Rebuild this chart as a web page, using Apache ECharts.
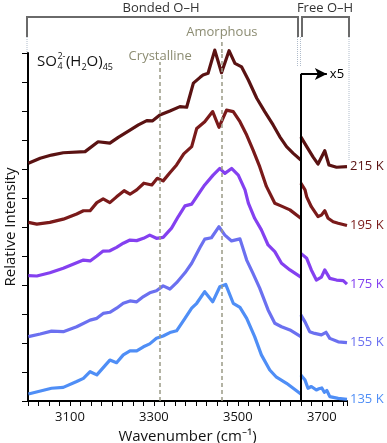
<!DOCTYPE html>
<html><head><meta charset="utf-8">
<script src="https://cdn.jsdelivr.net/npm/echarts@6/dist/echarts.min.js"></script>
<style>html,body{margin:0;padding:0;background:#fff}#c{width:387px;height:443px}</style>
</head><body><div id="c"></div>
<script>
// ---- data (wavenumber cm-1, relative intensity with offsets) ----
const bonded135 = [[3001,0.24],[3056,0.44],[3084,0.47],[3116,0.67],[3132,0.78],[3148,1.01],[3164,0.90],[3195,1.41],[3211,1.32],[3227,1.59],[3243,1.73],[3259,1.73],[3275,1.87],[3290,1.97],[3306,2.16],[3322,2.24],[3338,2.36],[3354,2.42],[3374,2.85],[3390,3.20],[3402,3.37],[3421,3.77],[3440,3.42],[3457,3.94],[3471,4.02],[3489,3.37],[3505,3.23],[3521,2.85],[3540,2.22],[3556,1.59],[3576,1.07],[3592,0.82],[3616,0.61],[3650,0.24]];
const free135 = [[3650,0.90],[3660,0.72],[3667,0.44],[3675,0.50],[3687,0.38],[3693,0.42],[3700,0.45],[3706,0.30],[3712,0.36],[3719,0.15],[3739,0.09],[3760,0.06]];
const bonded155 = [[3001,2.22],[3029,2.31],[3056,2.41],[3084,2.39],[3116,2.56],[3148,2.79],[3164,2.85],[3179,3.02],[3195,3.06],[3211,3.20],[3227,3.37],[3243,3.45],[3259,3.42],[3275,3.60],[3290,3.73],[3306,3.80],[3322,3.97],[3338,3.86],[3354,4.08],[3374,4.42],[3390,4.75],[3410,5.30],[3421,5.58],[3437,5.63],[3455,6.01],[3469,5.72],[3485,5.52],[3505,5.59],[3521,4.86],[3536,4.40],[3552,3.89],[3572,3.14],[3588,2.68],[3604,2.56],[3624,2.45],[3650,2.22]];
const free155 = [[3650,2.97],[3660,2.73],[3671,2.39],[3683,2.33],[3699,2.28],[3710,2.37],[3719,2.16],[3739,2.04],[3760,2.01]];
const bonded175 = [[3001,4.32],[3021,4.31],[3052,4.42],[3084,4.58],[3116,4.77],[3132,4.86],[3148,4.83],[3164,5.00],[3179,5.17],[3195,5.18],[3211,5.30],[3227,5.44],[3243,5.55],[3259,5.53],[3275,5.61],[3290,5.72],[3306,5.61],[3322,5.64],[3342,5.96],[3358,6.36],[3374,6.73],[3390,6.79],[3410,7.22],[3421,7.45],[3441,7.79],[3457,8.02],[3469,7.85],[3485,8.02],[3501,7.79],[3517,7.28],[3525,6.82],[3540,6.30],[3556,5.90],[3572,5.38],[3588,5.15],[3604,4.75],[3624,4.52],[3650,4.27]];
const free175 = [[3650,5.09],[3664,4.92],[3675,4.52],[3687,4.17],[3699,4.27],[3707,4.52],[3719,4.23],[3735,4.17],[3751,4.15],[3760,4.03]];
const bonded195 = [[3001,6.16],[3021,6.10],[3052,6.16],[3084,6.27],[3116,6.45],[3132,6.56],[3148,6.56],[3164,6.84],[3179,6.97],[3195,6.84],[3211,7.04],[3229,7.25],[3243,7.13],[3259,7.28],[3276,7.51],[3295,7.45],[3308,7.68],[3322,7.59],[3338,7.87],[3354,8.14],[3371,8.52],[3390,8.77],[3402,9.40],[3421,9.63],[3440,9.98],[3455,9.44],[3473,10.03],[3489,9.98],[3505,9.63],[3521,9.17],[3536,8.66],[3552,8.08],[3568,7.40],[3588,6.82],[3604,6.72],[3624,6.59],[3650,6.30]];
const free195 = [[3650,7.51],[3660,7.28],[3664,7.04],[3675,6.70],[3691,6.36],[3699,6.41],[3707,6.56],[3715,6.30],[3727,6.18],[3739,6.13],[3760,6.05]];
const bonded215 = [[3001,8.20],[3029,8.37],[3056,8.48],[3084,8.56],[3136,8.60],[3167,8.94],[3195,8.89],[3215,9.09],[3243,9.34],[3263,9.52],[3283,9.67],[3297,9.66],[3314,9.86],[3338,10.00],[3362,10.15],[3378,10.13],[3394,10.96],[3410,11.16],[3417,11.24],[3429,11.30],[3445,12.10],[3461,11.32],[3479,12.08],[3493,11.64],[3509,11.52],[3525,11.07],[3545,10.44],[3564,9.98],[3584,9.52],[3600,9.11],[3616,8.77],[3632,8.54],[3650,8.31]];
const free215 = [[3650,9.11],[3664,8.77],[3679,8.42],[3691,8.17],[3707,8.63],[3717,8.14],[3735,8.06],[3760,8.08]];
const temperatures = ['135 K','155 K','175 K','195 K','215 K'];
const xTickLabels = [3100,3300,3500,3700];
const crystallineWn = 3315;
const amorphousWn = 3462;
const breakWn = 3650;

const colors = ['#4f8ef6','#6b70f0','#8440f0','#7a1a1a','#5a1212'];
const bondedSets = [bonded135,bonded155,bonded175,bonded195,bonded215];
const freeSets = [free135,free155,free175,free195,free215];
const FONT = '"Open Sans", "Noto Sans", sans-serif';
const annoColor = '#8c8c72', annoLine = '#9a9a86';

const series = [];
bondedSets.forEach((d,i)=>{
  series.push({type:'line',data:d,showSymbol:false,clip:false,z:3,
    lineStyle:{color:colors[i],width:3.2,join:'round'},itemStyle:{color:colors[i]}});
  series.push({type:'line',data:freeSets[i],showSymbol:false,clip:false,z:3,
    lineStyle:{color:colors[i],width:3.2,join:'round'},itemStyle:{color:colors[i]},
    endLabel:{show:true,formatter:temperatures[i],color:colors[i],fontSize:13,distance:3,fontFamily:FONT}});
});
// annotations
series.push({type:'line',data:[],silent:true,z:2,clip:false,
  markLine:{symbol:'none',silent:true,animation:false,
    data:[
      [{coord:[crystallineWn,0],lineStyle:{color:annoLine,type:[4,3],width:1.5},
        label:{show:true,position:'end',formatter:'Crystalline',color:annoColor,fontSize:13,distance:-1,fontFamily:FONT}},
       {coord:[crystallineWn,11.69]}],
      [{coord:[amorphousWn,0],lineStyle:{color:annoLine,type:[4,3],width:1.5},label:{show:false}},
       {coord:[amorphousWn,12]}]
    ]}});
series.push({type:'line',data:[],silent:true,z:5,clip:false,
  markLine:{silent:true,animation:false,symbol:'none',
    data:[
      [{coord:[breakWn,0],lineStyle:{color:'#000',type:'solid',width:2},label:{show:false}},{coord:[breakWn,11.28]}],
      [{coord:[breakWn,11.28],symbol:'none',lineStyle:{color:'#000',type:'solid',width:2},
        label:{show:true,position:'end',formatter:'x5',color:'#000',fontSize:13,distance:3,fontFamily:FONT}},
       {coord:[3712,11.28],symbol:'arrow',symbolSize:[9,12]}]
    ]}});

// formula label layout: measure text widths
const ctx = document.createElement('canvas').getContext('2d');
function w(t,size){ctx.font=size+'px '+FONT;return ctx.measureText(t).width;}
const big=15, small=9, fx=37, fy=62;
let cx = fx;
const formula=[];
formula.push({type:'text',x:cx,y:fy,style:{text:'SO',fill:'#111',font:big+'px '+FONT,textVerticalAlign:'middle'}});
cx += w('SO',big)+0.5;
formula.push({type:'text',x:cx,y:fy-6,style:{text:'2-',fill:'#111',font:small+'px '+FONT,textVerticalAlign:'middle'}});
formula.push({type:'text',x:cx,y:fy+4,style:{text:'4',fill:'#111',font:small+'px '+FONT,textVerticalAlign:'middle'}});
cx += Math.max(w('2-',small),w('4',small))+0.5;
formula.push({type:'text',x:cx,y:fy,style:{text:'(H',fill:'#111',font:big+'px '+FONT,textVerticalAlign:'middle'}});
cx += w('(H',big);
formula.push({type:'text',x:cx,y:fy+5,style:{text:'2',fill:'#111',font:small+'px '+FONT,textVerticalAlign:'middle'}});
cx += w('2',small);
formula.push({type:'text',x:cx,y:fy,style:{text:'O)',fill:'#111',font:big+'px '+FONT,textVerticalAlign:'middle'}});
cx += w('O)',big);
formula.push({type:'text',x:cx,y:fy+5,style:{text:'45',fill:'#111',font:small+'px '+FONT,textVerticalAlign:'middle'}});

const chart = echarts.init(document.getElementById('c'),null,{renderer:'canvas'});
const baseGraphic = [
    {type:'polyline',shape:{points:[[27,37],[27,17],[298,17],[298,37]]},style:{stroke:'#6a6a6a',lineWidth:2,fill:null}},
    {type:'polyline',shape:{points:[[302,37],[302,17],[349,17],[349,37]]},style:{stroke:'#6a6a6a',lineWidth:2,fill:null}},
    {type:'line',shape:{x1:27,y1:37,x2:27,y2:52},style:{stroke:'#b0bccb',lineWidth:1,lineDash:[1,1]}},
    {type:'line',shape:{x1:297.5,y1:37,x2:297.5,y2:67},style:{stroke:'#b0bccb',lineWidth:1,lineDash:[1,1]}},
    {type:'line',shape:{x1:300.5,y1:37,x2:300.5,y2:67},style:{stroke:'#b0bccb',lineWidth:1,lineDash:[1,1]}},
    {type:'line',shape:{x1:349,y1:37,x2:349,y2:160},style:{stroke:'#b0bccb',lineWidth:1,lineDash:[1,1]}},
    {type:'text',x:161,y:8,style:{text:'Bonded O–H',fill:'#333',font:'13px '+FONT,textAlign:'center',textVerticalAlign:'middle'}},
    {type:'text',x:325,y:8,style:{text:'Free O–H',fill:'#333',font:'13px '+FONT,textAlign:'center',textVerticalAlign:'middle'}}
  ].concat(formula);
chart.setOption({
  animation:false,
  grid:{left:28,right:40,top:53,bottom:42,outerBoundsMode:'none',containLabel:false},
  xAxis:{type:'value',min:3000,max:3760,interval:25,
    name:'Wavenumber (cm⁻¹)',nameLocation:'middle',nameGap:27,
    nameTextStyle:{fontSize:15,color:'#111',fontFamily:FONT},
    axisLine:{lineStyle:{color:'#000',width:2}},
    axisTick:{length:5,lineStyle:{color:'#000',width:1}},
    splitLine:{show:false},
    axisLabel:{fontSize:13,color:'#111',margin:10,fontFamily:FONT,
      formatter:v=>xTickLabels.indexOf(v)>=0?String(v):''}},
  yAxis:{type:'value',min:0,max:12,interval:1,
    name:'Relative Intensity',nameLocation:'middle',nameGap:10,
    nameTextStyle:{fontSize:15,color:'#111',fontFamily:FONT},
    axisLine:{show:true,lineStyle:{color:'#000',width:2}},
    axisTick:{show:true,length:6,lineStyle:{color:'#000',width:1}},
    axisLabel:{show:false},splitLine:{show:false}},
  graphic:baseGraphic,
  series:series
});
// amorphous line extends above the plot top: place extension + label via the axis scale
const pTop = chart.convertToPixel({gridIndex:0},[amorphousWn,12]);
const pExt = chart.convertToPixel({gridIndex:0},[amorphousWn,12.38]);
chart.setOption({graphic:baseGraphic.concat([
  {type:'line',shape:{x1:pTop[0],y1:pTop[1],x2:pExt[0],y2:pExt[1]},style:{stroke:annoLine,lineWidth:1.5,lineDash:[4,3]},z:2},
  {type:'text',x:pExt[0],y:pExt[1]-3,style:{text:'Amorphous',fill:annoColor,font:'13px '+FONT,textAlign:'center',textVerticalAlign:'bottom'}}
])});
</script></body></html>
